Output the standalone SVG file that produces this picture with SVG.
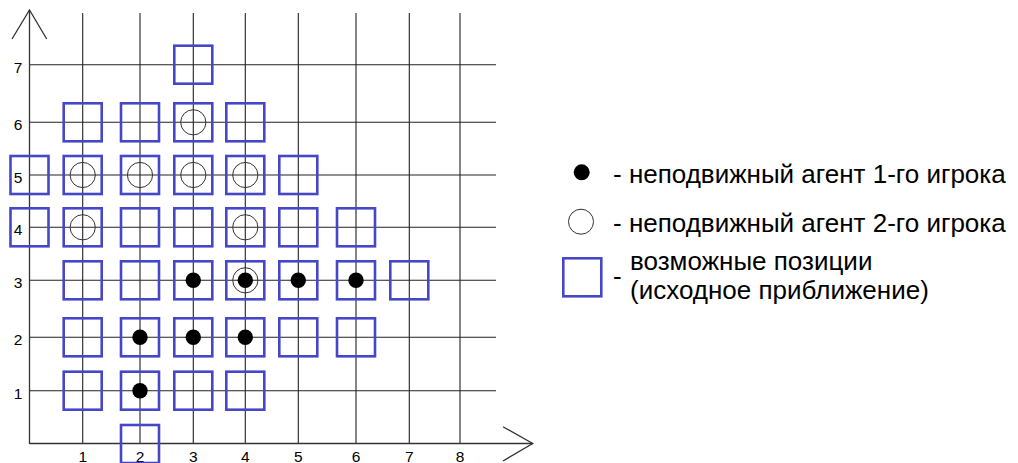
<svg xmlns="http://www.w3.org/2000/svg" width="1018" height="463" viewBox="0 0 1018 463">
  <style>
    .ln { stroke: #222; stroke-width: 1.1; fill: none; }
    .ax { stroke: #333; stroke-width: 1.3; fill: none; }
    .sq { fill: none; stroke: #4646c8; stroke-width: 2.6; }
    .oc { fill: none; stroke: #333; stroke-width: 1; }
    .fd { fill: #000; }
    .num { font-family: "Liberation Sans", Arial, sans-serif; font-size: 15.5px; fill: #000; }
    .lg { font-family: "Liberation Sans", Arial, sans-serif; font-size: 26px; fill: #000; }
  </style>
  <rect width="1018" height="463" fill="#fff"/>

  <g id="grid">
    <line class="ln" x1="82.7" y1="13" x2="82.7" y2="444"/>
    <line class="ln" x1="140" y1="13" x2="140" y2="444"/>
    <line class="ln" x1="193.3" y1="13" x2="193.3" y2="444"/>
    <line class="ln" x1="245.3" y1="13" x2="245.3" y2="444"/>
    <line class="ln" x1="298.3" y1="13" x2="298.3" y2="444"/>
    <line class="ln" x1="356" y1="13" x2="356" y2="444"/>
    <line class="ln" x1="409.3" y1="13" x2="409.3" y2="444"/>
    <line class="ln" x1="460" y1="13" x2="460" y2="444"/>
    <line class="ln" x1="29.5" y1="64.7" x2="496" y2="64.7"/>
    <line class="ln" x1="29.5" y1="122.3" x2="496" y2="122.3"/>
    <line class="ln" x1="29.5" y1="175" x2="496" y2="175"/>
    <line class="ln" x1="29.5" y1="227.3" x2="496" y2="227.3"/>
    <line class="ln" x1="29.5" y1="280.3" x2="496" y2="280.3"/>
    <line class="ln" x1="29.5" y1="337.3" x2="496" y2="337.3"/>
    <line class="ln" x1="29.5" y1="390.7" x2="496" y2="390.7"/>
  </g>

  <g id="axes">
    <line class="ax" x1="29.5" y1="10" x2="29.5" y2="444"/>
    <polyline class="ax" points="12,39 29.5,10 46.7,39"/>
    <line class="ax" x1="29.5" y1="443.5" x2="532.7" y2="443.5"/>
    <polyline class="ax" points="503,426.7 532.7,443.5 503,461"/>
  </g>

  <g id="axis-labels" class="num">
    <g text-anchor="middle">
      <text x="18" y="72.5">7</text>
      <text x="18" y="130">6</text>
      <text x="18" y="182.5">5</text>
      <text x="18" y="235">4</text>
      <text x="18" y="288">3</text>
      <text x="18" y="345">2</text>
      <text x="18" y="398.5">1</text>
      <text x="82.7" y="462">1</text>
      <text x="140" y="462">2</text>
      <text x="193.3" y="462">3</text>
      <text x="245.3" y="462">4</text>
      <text x="298.3" y="462">5</text>
      <text x="356" y="462">6</text>
      <text x="409.3" y="462">7</text>
      <text x="460" y="462">8</text>
    </g>
  </g>

  <g id="positions">
    <!-- row 7 -->
    <rect class="sq" x="174.3" y="45.7" width="38" height="38"/>
    <!-- row 6 -->
    <rect class="sq" x="63.7" y="103.3" width="38" height="38"/>
    <rect class="sq" x="121" y="103.3" width="38" height="38"/>
    <rect class="sq" x="174.3" y="103.3" width="38" height="38"/>
    <rect class="sq" x="226.3" y="103.3" width="38" height="38"/>
    <!-- row 5 -->
    <rect class="sq" x="10.5" y="156" width="38" height="38"/>
    <rect class="sq" x="63.7" y="156" width="38" height="38"/>
    <rect class="sq" x="121" y="156" width="38" height="38"/>
    <rect class="sq" x="174.3" y="156" width="38" height="38"/>
    <rect class="sq" x="226.3" y="156" width="38" height="38"/>
    <rect class="sq" x="279.3" y="156" width="38" height="38"/>
    <!-- row 4 -->
    <rect class="sq" x="10.5" y="208.3" width="38" height="38"/>
    <rect class="sq" x="63.7" y="208.3" width="38" height="38"/>
    <rect class="sq" x="121" y="208.3" width="38" height="38"/>
    <rect class="sq" x="174.3" y="208.3" width="38" height="38"/>
    <rect class="sq" x="226.3" y="208.3" width="38" height="38"/>
    <rect class="sq" x="279.3" y="208.3" width="38" height="38"/>
    <rect class="sq" x="337" y="208.3" width="38" height="38"/>
    <!-- row 3 -->
    <rect class="sq" x="63.7" y="261.3" width="38" height="38"/>
    <rect class="sq" x="121" y="261.3" width="38" height="38"/>
    <rect class="sq" x="174.3" y="261.3" width="38" height="38"/>
    <rect class="sq" x="226.3" y="261.3" width="38" height="38"/>
    <rect class="sq" x="279.3" y="261.3" width="38" height="38"/>
    <rect class="sq" x="337" y="261.3" width="38" height="38"/>
    <rect class="sq" x="390.3" y="261.3" width="38" height="38"/>
    <!-- row 2 -->
    <rect class="sq" x="63.7" y="318.3" width="38" height="38"/>
    <rect class="sq" x="121" y="318.3" width="38" height="38"/>
    <rect class="sq" x="174.3" y="318.3" width="38" height="38"/>
    <rect class="sq" x="226.3" y="318.3" width="38" height="38"/>
    <rect class="sq" x="279.3" y="318.3" width="38" height="38"/>
    <rect class="sq" x="337" y="318.3" width="38" height="38"/>
    <!-- row 1 -->
    <rect class="sq" x="63.7" y="371.7" width="38" height="38"/>
    <rect class="sq" x="121" y="371.7" width="38" height="38"/>
    <rect class="sq" x="174.3" y="371.7" width="38" height="38"/>
    <rect class="sq" x="226.3" y="371.7" width="38" height="38"/>
    <!-- row 0 -->
    <rect class="sq" x="121" y="425" width="38" height="38"/>
  </g>

  <g id="agents-player2">
    <circle class="oc" cx="193.3" cy="122.3" r="12.6"/>
    <circle class="oc" cx="82.7" cy="175" r="12.6"/>
    <circle class="oc" cx="140" cy="175" r="12.6"/>
    <circle class="oc" cx="193.3" cy="175" r="12.6"/>
    <circle class="oc" cx="245.3" cy="175" r="12.6"/>
    <circle class="oc" cx="82.7" cy="227.3" r="12.6"/>
    <circle class="oc" cx="245.3" cy="227.3" r="12.6"/>
    <circle class="oc" cx="245.3" cy="280.3" r="12.6"/>
  </g>

  <g id="agents-player1">
    <circle class="fd" cx="193.3" cy="280.3" r="7.7"/>
    <circle class="fd" cx="245.3" cy="280.3" r="7.7"/>
    <circle class="fd" cx="298.3" cy="280.3" r="7.7"/>
    <circle class="fd" cx="356" cy="280.3" r="7.7"/>
    <circle class="fd" cx="140" cy="337.3" r="7.7"/>
    <circle class="fd" cx="193.3" cy="337.3" r="7.7"/>
    <circle class="fd" cx="245.3" cy="337.3" r="7.7"/>
    <circle class="fd" cx="140" cy="390.7" r="7.7"/>
  </g>

  <g id="legend">
    <g id="legend-player1">
      <circle class="fd" cx="581.7" cy="172.3" r="8"/>
      <text class="lg" x="613" y="183">- неподвижный агент 1-го игрока</text>
    </g>
    <g id="legend-player2">
      <circle class="oc" cx="581" cy="221.7" r="12.5"/>
      <text class="lg" x="613" y="232">- неподвижный агент 2-го игрока</text>
    </g>
    <g id="legend-positions">
      <rect class="sq" x="563.3" y="258.3" width="38" height="38"/>
      <text class="lg" x="613" y="285">-</text>
      <text class="lg"><tspan x="630" y="269.5">возможные позиции</tspan><tspan x="630" y="299">(исходное приближение)</tspan></text>
    </g>
  </g>
</svg>
